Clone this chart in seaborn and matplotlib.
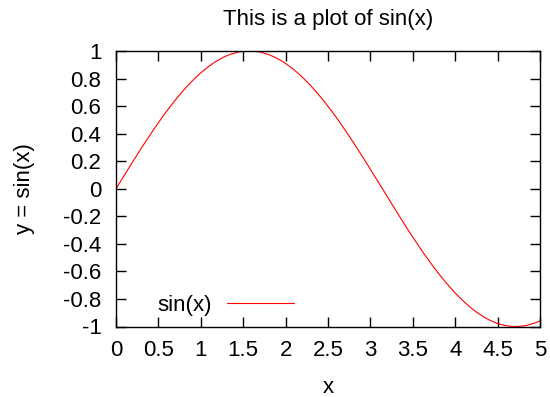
import matplotlib
matplotlib.use("Agg")
import matplotlib.pyplot as plt
import seaborn as sns
import pandas as pd

# Sampled curve y = sin(x) on [0, 5], step 0.05
x_vals = [round(i * 0.05, 2) for i in range(101)]
y_vals = [0.000, 0.050, 0.100, 0.149, 0.199, 0.247, 0.296, 0.343, 0.389, 0.435,
          0.479, 0.523, 0.565, 0.605, 0.644, 0.682, 0.717, 0.751, 0.783, 0.813,
          0.841, 0.867, 0.891, 0.913, 0.932, 0.949, 0.964, 0.976, 0.985, 0.993,
          0.997, 1.000, 1.000, 0.997, 0.992, 0.984, 0.974, 0.961, 0.946, 0.929,
          0.909, 0.887, 0.863, 0.837, 0.808, 0.778, 0.746, 0.711, 0.675, 0.638,
          0.598, 0.558, 0.516, 0.472, 0.427, 0.382, 0.335, 0.287, 0.239, 0.190,
          0.141, 0.091, 0.042, -0.008, -0.058, -0.108, -0.158, -0.207, -0.256, -0.304,
          -0.351, -0.397, -0.443, -0.487, -0.530, -0.572, -0.612, -0.651, -0.688, -0.723,
          -0.757, -0.788, -0.818, -0.846, -0.872, -0.895, -0.916, -0.935, -0.952, -0.966,
          -0.978, -0.987, -0.994, -0.998, -1.000, -0.999, -0.996, -0.991, -0.982, -0.972,
          -0.959]
x_ticks = [0, 0.5, 1, 1.5, 2, 2.5, 3, 3.5, 4, 4.5, 5]
x_tick_labels = ["0", "0.5", "1", "1.5", "2", "2.5", "3", "3.5", "4", "4.5", "5"]
y_ticks = [-1, -0.8, -0.6, -0.4, -0.2, 0, 0.2, 0.4, 0.6, 0.8, 1]
y_tick_labels = ["-1", "-0.8", "-0.6", "-0.4", "-0.2", "0", "0.2", "0.4", "0.6", "0.8", "1"]

df = pd.DataFrame({"x": x_vals, "y": y_vals})

sns.set_style("ticks")
plt.rcParams["font.family"] = ["Liberation Sans", "DejaVu Sans"]
FS = 16
plt.rcParams.update({
    "font.size": FS,
    "text.color": "black",
    "axes.labelcolor": "black",
    "axes.titlecolor": "black",
    "xtick.color": "black",
    "ytick.color": "black",
})

fig, ax = plt.subplots(figsize=(5.5, 3.97), dpi=100)
fig.subplots_adjust(left=116 / 550, right=540 / 550, top=1 - 51 / 397, bottom=1 - 326.5 / 397)

sns.lineplot(data=df, x="x", y="y", ax=ax, color="#ff0000", linewidth=0.8, label="sin(x)")

ax.set_xlim(0, 5)
ax.set_ylim(-1, 1)
ax.set_xticks(x_ticks)
ax.set_xticklabels(x_tick_labels)
ax.set_yticks(y_ticks)
ax.set_yticklabels(y_tick_labels)

for side in ["top", "right", "bottom", "left"]:
    ax.spines[side].set_visible(True)
    ax.spines[side].set_color("black")
    ax.spines[side].set_linewidth(1.0)

ax.tick_params(axis="both", which="major", direction="in", length=7, width=1.0,
               top=True, right=True, labelsize=FS, colors="black")
ax.tick_params(axis="y", pad=10.5)
ax.tick_params(axis="x", pad=10)

ax.set_title("This is a plot of sin(x)", fontsize=FS, pad=19, color="black")
ax.set_xlabel("x", fontsize=FS, labelpad=11, color="black")
ax.set_ylabel("y = sin(x)", fontsize=FS, labelpad=20, color="black")

leg = ax.legend(loc="center left", frameon=False, markerfirst=False,
                handlelength=3.05, handletextpad=0.68, fontsize=FS,
                borderpad=0, borderaxespad=0,
                bbox_to_anchor=(0.0967, 0.078))
for t in leg.get_texts():
    t.set_color("black")

fig.savefig("out.png", dpi=100)
